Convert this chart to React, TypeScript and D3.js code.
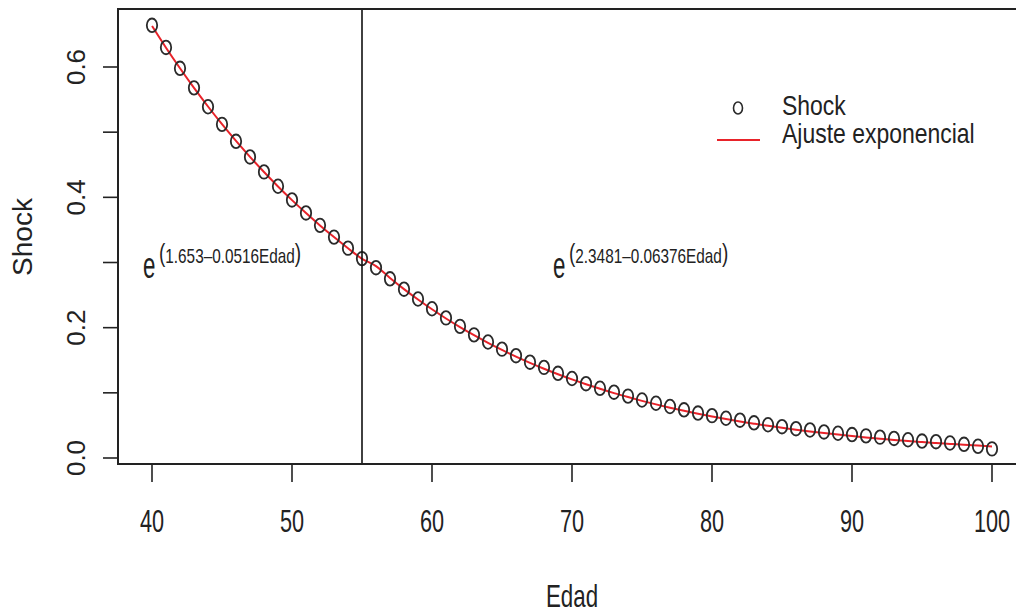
import React from 'react';
import * as d3 from 'd3';

// Edad (x) and observed Shock (points)
const edad = [
  40, 41, 42, 43, 44, 45, 46, 47, 48, 49, 50, 51, 52, 53, 54, 55, 56, 57, 58, 59, 60,
  61, 62, 63, 64, 65, 66, 67, 68, 69, 70, 71, 72, 73, 74, 75, 76, 77, 78, 79, 80,
  81, 82, 83, 84, 85, 86, 87, 88, 89, 90, 91, 92, 93, 94, 95, 96, 97, 98, 99, 100,
];
const shock = [
  0.664, 0.63, 0.598, 0.568, 0.539, 0.512, 0.486, 0.462, 0.439, 0.417, 0.396, 0.376, 0.357, 0.339, 0.322, 0.306,
  0.292, 0.275, 0.259, 0.244, 0.229, 0.215, 0.202, 0.189, 0.178, 0.167, 0.157, 0.147, 0.139, 0.13, 0.122,
  0.114, 0.107, 0.101, 0.095, 0.089, 0.084, 0.079, 0.074, 0.069, 0.065, 0.061, 0.058, 0.054, 0.051, 0.048,
  0.045, 0.043, 0.04, 0.038, 0.036, 0.034, 0.032, 0.03, 0.028, 0.026, 0.025, 0.023, 0.021, 0.018, 0.014,
];
// fitted exponential values
const ajuste = [
  0.663, 0.6296, 0.598, 0.5679, 0.5394, 0.5122, 0.4865, 0.462, 0.4388, 0.4167, 0.3957, 0.3758, 0.3569, 0.339, 0.3219, 0.3057,
  0.2945, 0.2763, 0.2592, 0.2432, 0.2282, 0.2141, 0.2009, 0.1885, 0.1768, 0.1659, 0.1556, 0.146, 0.137, 0.1286, 0.1206,
  0.1132, 0.1062, 0.0996, 0.0935, 0.0877, 0.0823, 0.0772, 0.0724, 0.0679, 0.0638, 0.0598, 0.0561, 0.0527, 0.0494, 0.0464,
  0.0435, 0.0408, 0.0383, 0.0359, 0.0337, 0.0316, 0.0297, 0.0278, 0.0261, 0.0245, 0.023, 0.0216, 0.0202, 0.019, 0.0178,
];
const xTicks = [40, 50, 60, 70, 80, 90, 100];
const yTicks = [0, 0.1, 0.2, 0.3, 0.4, 0.5, 0.6];
const yLabels = [0, 0.2, 0.4, 0.6];
const corte = 55;

const FONT = '"Liberation Sans", Arial, Helvetica, sans-serif';

export default function App() {
  const W = 1016;
  const H = 615;
  const box = { left: 118, right: 1026, top: 9, bottom: 464 };

  const x = d3.scaleLinear().domain([40, 100]).range([152, 992]);
  const y = d3.scaleLinear().domain([0, 0.6]).range([458, 67]);

  const line = d3
    .line<number>()
    .x((_, i) => x(edad[i]))
    .y((d) => y(d))
    .curve(d3.curveMonotoneX);

  const sup = (ex: number, label: string) => (
    <g>
      <text
        transform={`translate(${ex},278) scale(0.62,1)`}
        fontSize={36}
        fontFamily={FONT}
        fill="#222"
      >
        e
      </text>
      <text transform={`translate(${ex + 16},262) scale(0.73,1)`} fontFamily={FONT} fill="#222">
        <tspan fontSize={26}>(</tspan>
        <tspan fontSize={21} dy={1}>{label}</tspan>
        <tspan fontSize={26} dy={-1}>)</tspan>
      </text>
    </g>
  );

  return (
    <div style={{ position: 'absolute', left: 0, top: 0 }}>
      <svg width={W} height={H} style={{ display: 'block', background: '#fff' }}>
        {/* fitted curve */}
        <path d={line(ajuste) || ''} fill="none" stroke="#e8232a" strokeWidth={2} />

        {/* observed points */}
        {shock.map((d, i) => (
          <ellipse
            key={i}
            cx={x(edad[i])}
            cy={y(d)}
            rx={5.2}
            ry={6.8}
            fill="none"
            stroke="#2a2a2a"
            strokeWidth={1.8}
          />
        ))}

        {/* vertical split line */}
        <line x1={x(corte)} x2={x(corte)} y1={box.top} y2={box.bottom} stroke="#111" strokeWidth={1.6} />

        {/* box */}
        <rect
          x={box.left}
          y={box.top}
          width={box.right - box.left}
          height={box.bottom - box.top}
          fill="none"
          stroke="#222"
          strokeWidth={2}
        />

        {/* x axis */}
        {xTicks.map((t) => (
          <g key={t}>
            <line x1={x(t)} x2={x(t)} y1={box.bottom} y2={482} stroke="#222" strokeWidth={1.6} />
            <text
              transform={`translate(${x(t)},532) scale(0.7,1)`}
              textAnchor="middle"
              fontSize={31}
              fontFamily={FONT}
              fill="#222"
            >
              {t}
            </text>
          </g>
        ))}
        <text
          transform="translate(572,607) scale(0.72,1)"
          textAnchor="middle"
          fontSize={31}
          fontFamily={FONT}
          fill="#222"
        >
          Edad
        </text>

        {/* y axis */}
        {yTicks.map((t) => (
          <line key={t} x1={103} x2={box.left} y1={y(t)} y2={y(t)} stroke="#222" strokeWidth={1.6} />
        ))}
        {yLabels.map((t) => (
          <text
            key={t}
            transform={`translate(85,${y(t)}) rotate(-90)`}
            textAnchor="middle"
            fontSize={26}
            fontFamily={FONT}
            fill="#222"
          >
            {d3.format('.1f')(t)}
          </text>
        ))}
        <text
          transform="translate(32,237) rotate(-90)"
          textAnchor="middle"
          fontSize={28}
          fontFamily={FONT}
          fill="#222"
        >
          Shock
        </text>

        {/* formula annotations */}
        {sup(143, '1.653\u20130.0516Edad')}
        {sup(553, '2.3481\u20130.06376Edad')}

        {/* legend */}
        <ellipse cx={738} cy={108} rx={4.5} ry={6} fill="none" stroke="#2a2a2a" strokeWidth={1.6} />
        <line x1={717} x2={760} y1={140} y2={140} stroke="#e8232a" strokeWidth={2} />
        <text
          transform="translate(782,115) scale(0.82,1)"
          fontSize={28}
          fontFamily={FONT}
          fill="#222"
        >
          Shock
        </text>
        <text
          transform="translate(782,143) scale(0.82,1)"
          fontSize={28}
          fontFamily={FONT}
          fill="#222"
        >
          Ajuste exponencial
        </text>
      </svg>
    </div>
  );
}
